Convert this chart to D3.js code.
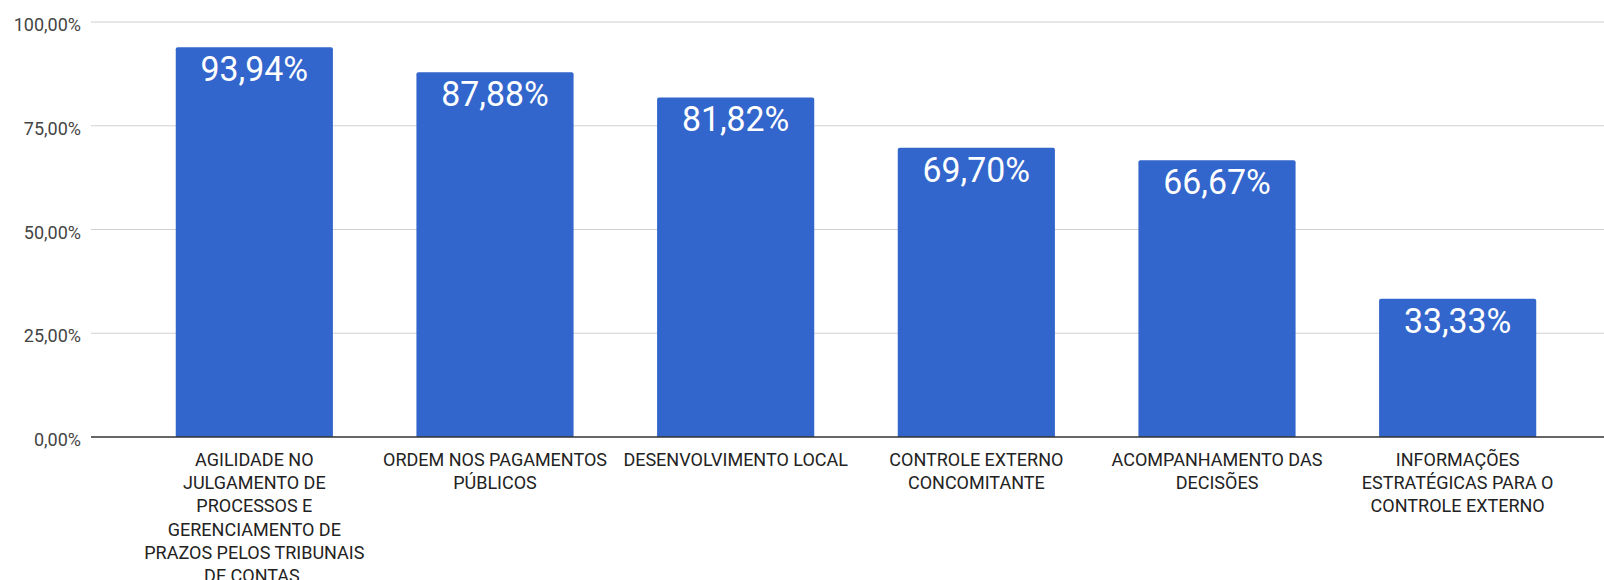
<!DOCTYPE html>
<html>
<head>
<meta charset="utf-8">
<script src="https://cdn.jsdelivr.net/npm/d3@7"></script>
<style>
  html, body { margin: 0; padding: 0; background: #fff; }
  svg { display: block; font-family: Roboto, sans-serif; }
</style>
</head>
<body>
<svg id="chart"></svg>
<script>
const categories = [
  "AGILIDADE NO\nJULGAMENTO DE\nPROCESSOS E\nGERENCIAMENTO DE\nPRAZOS PELOS TRIBUNAIS\nDE CONTAS.",
  "ORDEM NOS PAGAMENTOS\nPÚBLICOS",
  "DESENVOLVIMENTO LOCAL",
  "CONTROLE EXTERNO\nCONCOMITANTE",
  "ACOMPANHAMENTO DAS\nDECISÕES",
  "INFORMAÇÕES\nESTRATÉGICAS PARA O\nCONTROLE EXTERNO"
];
const values = [0.9394, 0.8788, 0.8182, 0.6970, 0.6667, 0.3333];
const yTicks = [0, 0.25, 0.5, 0.75, 1];

const width = 1604, height = 580;
const svg = d3.select("#chart").attr("width", width).attr("height", height);

const x = d3.scaleBand()
    .domain(categories)
    .range([134, 1578])
    .paddingInner(0.347)
    .paddingOuter(0.1735);

const y = d3.scaleLinear()
    .domain([0, 1])
    .range([437, 22]);

const pct = v => d3.format(".2f")(v * 100).replace(".", ",") + "%";

// gridlines
svg.append("g")
  .selectAll("line")
  .data(yTicks.filter(d => d > 0))
  .join("line")
    .attr("x1", 91).attr("x2", width)
    .attr("y1", d => y(d)).attr("y2", d => y(d))
    .attr("stroke", "#d0d0d0")
    .attr("stroke-width", 1.2);

// y tick labels
svg.append("g")
  .selectAll("text")
  .data(yTicks)
  .join("text")
    .attr("x", 81)
    .attr("y", d => y(d) + 9)
    .attr("text-anchor", "end")
    .attr("fill", "#444")
    .style("font-size", "18px")
    .text(pct);

// bars
svg.append("g")
  .selectAll("path")
  .data(values)
  .join("path")
    .attr("fill", "#3366cc")
    .attr("d", (d, i) => {
      const x0 = x(categories[i]), w = x.bandwidth();
      const y0 = y(d), y1 = y(0), r = 2;
      return `M${x0},${y1}V${y0 + r}Q${x0},${y0} ${x0 + r},${y0}H${x0 + w - r}Q${x0 + w},${y0} ${x0 + w},${y0 + r}V${y1}Z`;
    });

// baseline
svg.append("line")
    .attr("x1", 91).attr("x2", width)
    .attr("y1", y(0)).attr("y2", y(0))
    .attr("stroke", "#333")
    .attr("stroke-width", 1.5);

// value labels (slightly condensed like the original)
svg.append("g")
  .selectAll("text")
  .data(values)
  .join("text")
    .attr("transform", (d, i) => `translate(${x(categories[i]) + x.bandwidth() / 2},${y(d) + 34}) scale(0.94,1)`)
    .attr("text-anchor", "middle")
    .attr("fill", "#fff")
    .style("font-size", "36px")
    .text(pct);

// category labels
const cat = svg.append("g")
  .selectAll("text")
  .data(categories)
  .join("text")
    .attr("text-anchor", "middle")
    .attr("fill", "#222")
    .style("font-size", "18px");

cat.selectAll("tspan")
  .data(d => d.split("\n").map(line => ({ line, c: d })))
  .join("tspan")
    .attr("x", d => x(d.c) + x.bandwidth() / 2)
    .attr("y", (d, i) => 466 + i * 23.2)
    .text(d => d.line);
</script>
</body>
</html>
